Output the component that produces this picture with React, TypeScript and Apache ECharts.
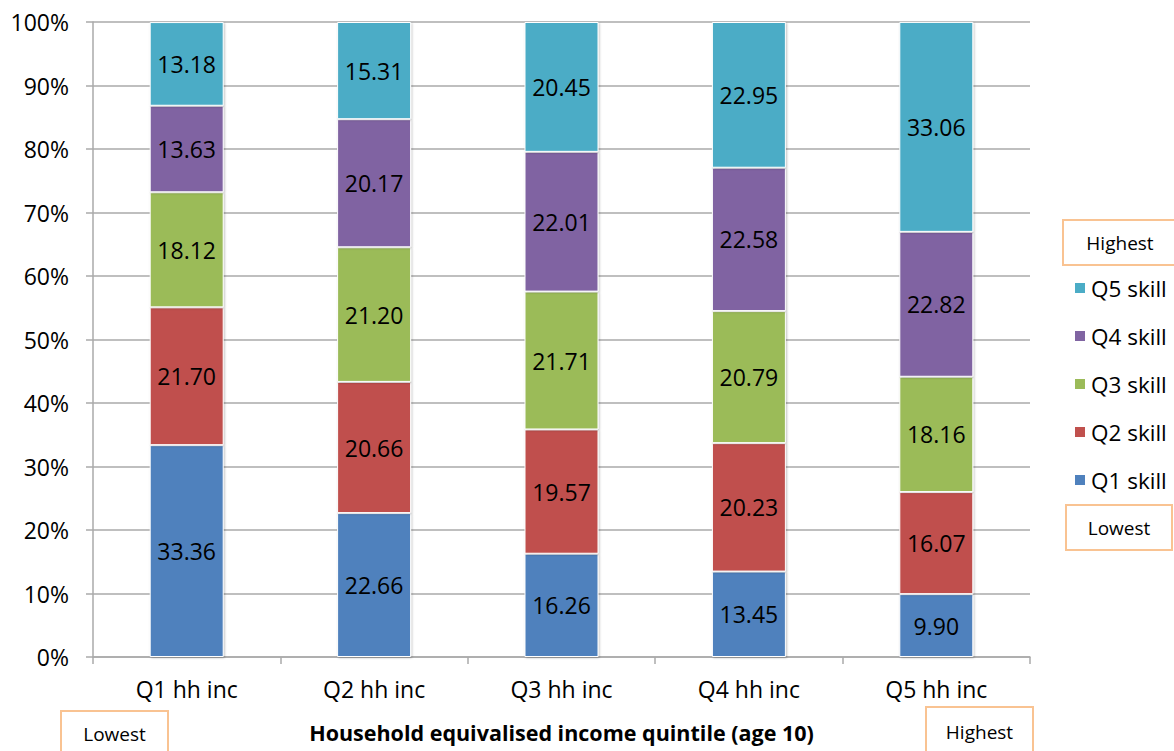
import React, { useEffect, useRef } from "react";
import * as echarts from "echarts";

// Income quintile categories (x axis)
const categories = ["Q1 hh inc", "Q2 hh inc", "Q3 hh inc", "Q4 hh inc", "Q5 hh inc"];

// Skill quintile shares (%) within each income quintile
const q1Skill = [33.36, 22.66, 16.26, 13.45, 9.9];
const q2Skill = [21.7, 20.66, 19.57, 20.23, 16.07];
const q3Skill = [18.12, 21.2, 21.71, 20.79, 18.16];
const q4Skill = [13.63, 20.17, 22.01, 22.58, 22.82];
const q5Skill = [13.18, 15.31, 20.45, 22.95, 33.06];

const seriesNames = ["Q1 skill", "Q2 skill", "Q3 skill", "Q4 skill", "Q5 skill"];
const seriesColors = ["#4f81bd", "#c0504d", "#9bbb59", "#8064a2", "#4bacc6"];
const seriesData = [q1Skill, q2Skill, q3Skill, q4Skill, q5Skill];

const FONT = "'Open Sans', 'Noto Sans', sans-serif";
const BOX_STROKE = "#f9c392";
const AXIS_GREY = "#aaaaaa";

function boxLabel(x: number, y: number, w: number, h: number, text: string) {
  return {
    type: "group",
    x,
    y,
    children: [
      {
        type: "rect",
        shape: { x: 0, y: 0, width: w, height: h },
        style: { fill: "#ffffff", stroke: BOX_STROKE, lineWidth: 2 },
      },
      {
        type: "text",
        x: w / 2,
        y: h / 2,
        style: {
          text,
          fill: "#000000",
          font: `19px ${FONT}`,
          align: "center",
          verticalAlign: "middle",
        },
      },
    ],
  };
}

export default function App() {
  const ref = useRef<HTMLDivElement>(null);

  useEffect(() => {
    if (!ref.current) return;
    const chart = echarts.init(ref.current, undefined, { renderer: "svg" });

    const series = seriesNames.map((name, i) => ({
      name,
      type: "bar",
      stack: "total",
      barWidth: 74,
      data: seriesData[i],
      itemStyle: {
        color: seriesColors[i],
        borderColor: "#ffffff",
        borderWidth: 1,
        shadowColor: "rgba(0,0,0,0.25)",
        shadowBlur: 2,
        shadowOffsetX: 1,
        shadowOffsetY: 1,
      },
      label: {
        show: true,
        position: "inside",
        color: "#000000",
        fontFamily: FONT,
        fontSize: 23,
        formatter: (p: any) => p.value.toFixed(2),
      },
    }));

    chart.setOption({
      animation: false,
      backgroundColor: "#ffffff",
      grid: { left: 93, right: 144, top: 22, bottom: 94, containLabel: false },
      xAxis: {
        type: "category",
        data: categories,
        name: "Household equivalised income quintile (age 10)",
        nameLocation: "middle",
        nameGap: 64,
        nameTextStyle: {
          fontFamily: FONT,
          fontSize: 21.5,
          fontWeight: "bold",
          color: "#000000",
        },
        axisLine: { show: true, lineStyle: { color: AXIS_GREY, width: 1.5 } },
        axisTick: { show: true, length: 7, lineStyle: { color: AXIS_GREY, width: 1.5 } },
        axisLabel: {
          fontFamily: FONT,
          fontSize: 23,
          color: "#000000",
          margin: 20,
        },
      },
      yAxis: {
        type: "value",
        min: 0,
        max: 100,
        interval: 10,
        axisLine: { show: true, lineStyle: { color: AXIS_GREY, width: 1.5 } },
        axisTick: { show: true, length: 7, lineStyle: { color: AXIS_GREY, width: 1.5 } },
        axisLabel: {
          formatter: "{value}%",
          fontFamily: FONT,
          fontSize: 23,
          color: "#000000",
          margin: 24,
        },
        splitLine: { show: true, lineStyle: { color: AXIS_GREY, width: 1.5 } },
      },
      legend: {
        orient: "vertical",
        left: 1068,
        top: 271,
        data: [...seriesNames].reverse(),
        icon: "rect",
        itemWidth: 12,
        itemHeight: 12,
        itemGap: 24,
        textStyle: {
          fontFamily: FONT,
          fontSize: 22.5,
          color: "#000000",
          lineHeight: 24,
        },
      },
      graphic: [
        boxLabel(1063, 220, 114, 45, "Highest"),
        boxLabel(1066, 505, 106, 45, "Lowest"),
        boxLabel(61, 711, 107, 45, "Lowest"),
        boxLabel(926, 707, 107, 50, "Highest"),
      ],
      series,
    });

    return () => chart.dispose();
  }, []);

  return (
    <div
      ref={ref}
      style={{ position: "absolute", left: 0, top: 0, width: 1174, height: 751 }}
    />
  );
}
